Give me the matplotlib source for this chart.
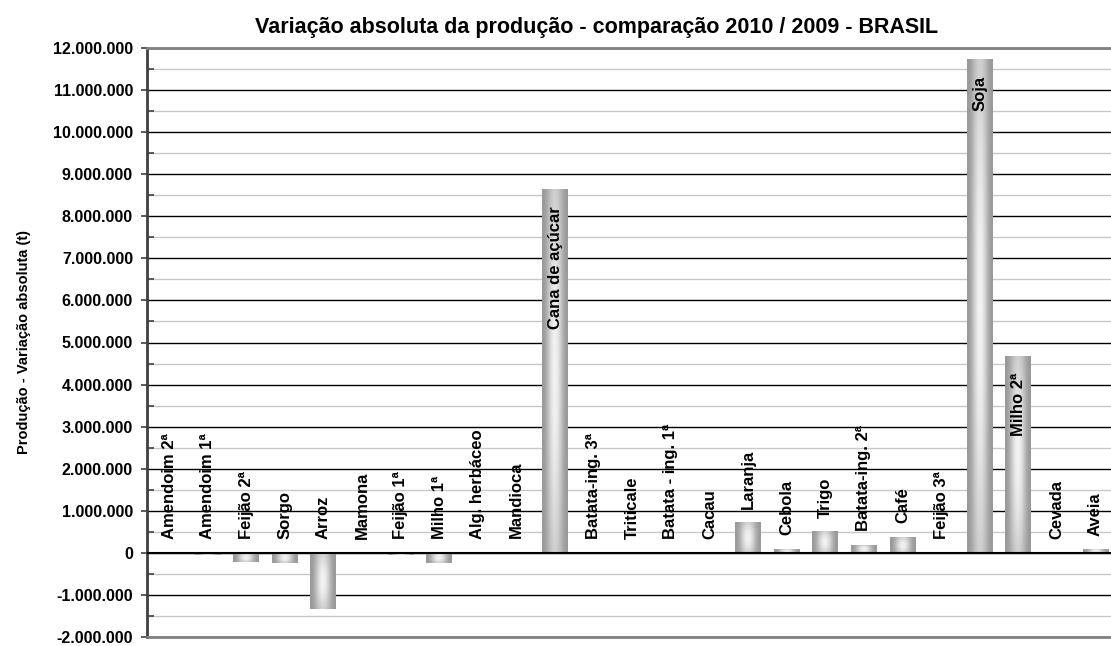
import numpy as np
import matplotlib.pyplot as plt
from matplotlib.ticker import MultipleLocator, FuncFormatter

plt.rcParams['font.family'] = ['Liberation Sans', 'DejaVu Sans']

# Data (variação absoluta, t)
culturas = ['Amendoim 2ª', 'Amendoim 1ª', 'Feijão 2ª', 'Sorgo', 'Arroz', 'Mamona',
            'Feijão 1ª', 'Milho 1ª', 'Alg. herbáceo', 'Mandioca', 'Cana de açúcar',
            'Batata-ing. 3ª', 'Triticale', 'Batata - ing. 1ª', 'Cacau', 'Laranja',
            'Cebola', 'Trigo', 'Batata-ing. 2ª', 'Café', 'Feijão 3ª', 'Soja',
            'Milho 2ª', 'Cevada', 'Aveia']
variacao = [5000, -50000, -210000, -250000, -1340000, -10000,
            -50000, -250000, -5000, 20000, 8630000,
            5000, 8000, 10000, 5000, 715000,
            90000, 500000, 190000, 380000, 10000, 11730000,
            4680000, 10000, 80000]

fig = plt.figure(figsize=(11.11, 6.46), dpi=100)
ax = fig.add_axes([147 / 1111, 9 / 646, 1 - 147 / 1111, 589 / 646])

x = np.arange(len(culturas))
bars = ax.bar(x, variacao, width=0.67, color='none', edgecolor='none', zorder=2)

# cylinder-like gray gradient fill for each bar
for b in bars:
    bx, by, bw, bh = b.get_x(), b.get_y(), b.get_width(), b.get_height()
    if abs(bh) < 1:
        continue
    u = np.linspace(-1, 1, 40)
    v = np.linspace(-1, 1, 60)
    hx = np.cos(u * np.pi / 2) ** 2
    hy = 0.6 + 0.4 * np.cos(v * np.pi / 2)
    img = 0.60 + 0.35 * np.outer(hy, hx)
    ax.imshow(img, cmap='gray', vmin=0, vmax=1, aspect='auto', zorder=2,
              extent=[bx, bx + bw, by, by + bh], origin='lower', interpolation='bilinear')

# category labels
for i, (nome, val) in enumerate(zip(culturas, variacao)):
    if val > 3000000:
        ax.text(i, val - 400000, nome, rotation=90, ha='center', va='top',
                fontsize=12, fontweight='bold', zorder=4)
    else:
        ax.text(i, max(val, 0) + 330000, nome, rotation=90, ha='center', va='bottom',
                fontsize=12, fontweight='bold', zorder=4)

ax.set_xlim(-0.57, 24.40)
ax.set_ylim(-2000000, 12000000)
ax.yaxis.set_major_locator(MultipleLocator(1000000))
ax.yaxis.set_minor_locator(MultipleLocator(500000))
ax.yaxis.set_major_formatter(FuncFormatter(lambda v, p: f'{int(v):,}'.replace(',', '.')))
ax.set_xticks([])

ax.grid(which='major', axis='y', color='black', lw=1, zorder=1)
ax.grid(which='minor', axis='y', color='#c8c8c8', lw=1, zorder=0)
ax.axhline(0, color='black', lw=1.5, zorder=3)

ax.tick_params(axis='y', which='major', direction='out', length=4, width=1.2,
               color='#404040', labelsize=11.5, pad=6)
ax.tick_params(axis='y', which='minor', direction='in', length=5, width=1.2, color='#404040')
for t in ax.get_yticklabels():
    t.set_fontweight('bold')

ax.spines['right'].set_visible(False)
ax.spines['left'].set_color('#404040')
ax.spines['left'].set_linewidth(2)
ax.spines['top'].set_color('#808080')
ax.spines['top'].set_linewidth(2)
ax.spines['bottom'].set_color('#808080')
ax.spines['bottom'].set_linewidth(2)

ax.set_ylabel('Produção - Variação absoluta (t)', fontsize=10.5, fontweight='bold', labelpad=16)
fig.text(597 / 1111, 1 - 27 / 646, 'Variação absoluta da produção - comparação 2010 / 2009 - BRASIL',
         ha='center', va='center', fontsize=15.5, fontweight='bold')

fig.savefig('out.png', dpi=100)
